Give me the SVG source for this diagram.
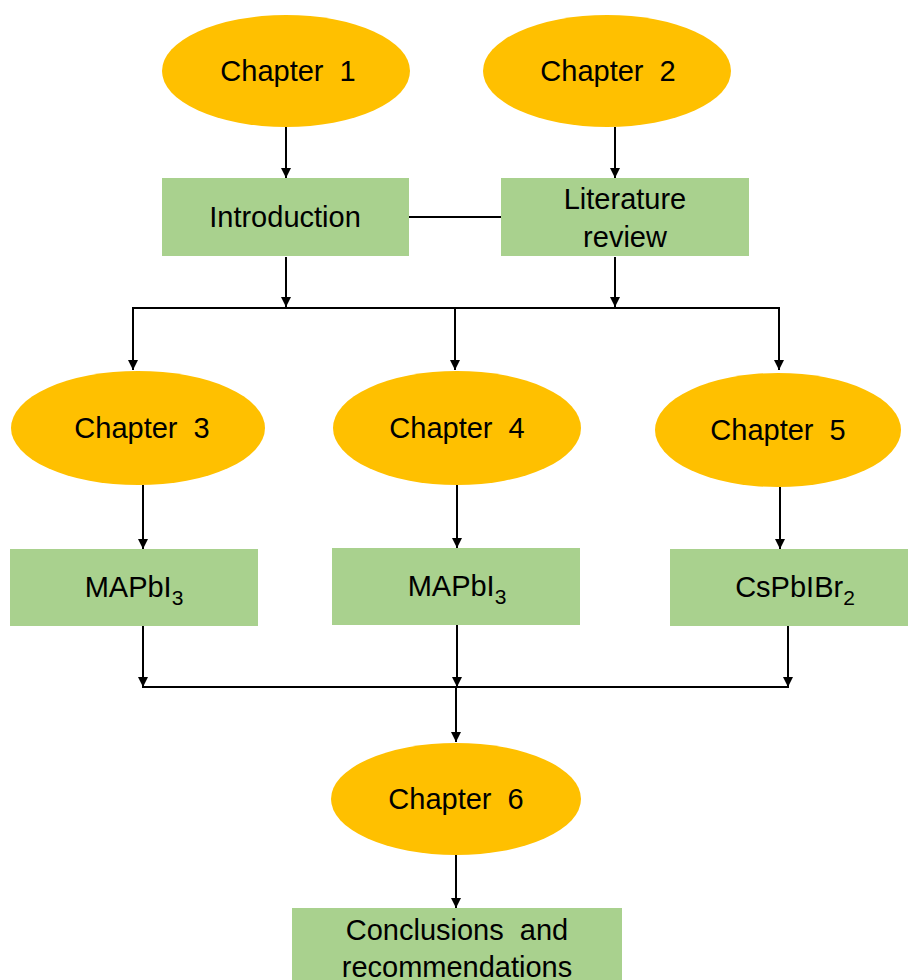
<svg xmlns="http://www.w3.org/2000/svg" width="908" height="980" viewBox="0 0 908 980">
<style>
.ell{fill:#FFC000}
.box{fill:#A9D18E}
.t{font-family:"Liberation Sans",Arial,sans-serif;font-size:29px;fill:#000;text-anchor:middle;word-spacing:8px}
.c{stroke:#000;stroke-width:2;fill:none}
</style>
<defs>
<marker id="ah" markerWidth="10" markerHeight="12" refX="10" refY="5" orient="auto" markerUnits="userSpaceOnUse">
<path d="M0,0 L10,5 L0,10 Z" fill="#000"/>
</marker>
</defs>
<rect width="908" height="980" fill="#fff"/>
<g id="connectors">
<line class="c" x1="286" y1="127" x2="286" y2="178" marker-end="url(#ah)"/>
<line class="c" x1="615" y1="127" x2="615" y2="178" marker-end="url(#ah)"/>
<line class="c" x1="409" y1="217" x2="501" y2="217"/>
<line class="c" x1="286" y1="257" x2="286" y2="307" marker-end="url(#ah)"/>
<line class="c" x1="615" y1="257" x2="615" y2="307" marker-end="url(#ah)"/>
<line class="c" x1="132" y1="308" x2="780" y2="308"/>
<line class="c" x1="133" y1="308" x2="133" y2="370" marker-end="url(#ah)"/>
<line class="c" x1="455" y1="308" x2="455" y2="370" marker-end="url(#ah)"/>
<line class="c" x1="779" y1="308" x2="779" y2="370" marker-end="url(#ah)"/>
<line class="c" x1="143" y1="485" x2="143" y2="549" marker-end="url(#ah)"/>
<line class="c" x1="457" y1="485" x2="457" y2="548" marker-end="url(#ah)"/>
<line class="c" x1="780" y1="487" x2="780" y2="549" marker-end="url(#ah)"/>
<line class="c" x1="143" y1="626" x2="143" y2="687" marker-end="url(#ah)"/>
<line class="c" x1="457" y1="625" x2="457" y2="687" marker-end="url(#ah)"/>
<line class="c" x1="788" y1="626" x2="788" y2="687" marker-end="url(#ah)"/>
<line class="c" x1="142" y1="687" x2="789" y2="687"/>
<line class="c" x1="456" y1="687" x2="456" y2="742" marker-end="url(#ah)"/>
<line class="c" x1="456" y1="855" x2="456" y2="908" marker-end="url(#ah)"/>
</g>
<g id="ch1"><ellipse class="ell" cx="286" cy="71" rx="124" ry="56"/><text class="t" x="288" y="81">Chapter 1</text></g>
<g id="ch2"><ellipse class="ell" cx="607" cy="71" rx="124" ry="56"/><text class="t" x="608" y="81">Chapter 2</text></g>
<g id="intro"><rect class="box" x="162" y="178" width="247" height="78"/><text class="t" x="285" y="227">Introduction</text></g>
<g id="lit"><rect class="box" x="501" y="178" width="248" height="78"/><text class="t" x="625" y="209">Literature</text><text class="t" x="625" y="247">review</text></g>
<g id="ch3"><ellipse class="ell" cx="138" cy="428" rx="127" ry="57"/><text class="t" x="142" y="438">Chapter 3</text></g>
<g id="ch4"><ellipse class="ell" cx="457" cy="428" rx="124" ry="57"/><text class="t" x="457" y="438">Chapter 4</text></g>
<g id="ch5"><ellipse class="ell" cx="778" cy="430" rx="123" ry="57"/><text class="t" x="778" y="440">Chapter 5</text></g>
<g id="m1"><rect class="box" x="10" y="549" width="248" height="77"/><text class="t" x="134" y="597">MAPbI<tspan font-size="21" dy="8">3</tspan></text></g>
<g id="m2"><rect class="box" x="332" y="548" width="248" height="77"/><text class="t" x="457" y="596">MAPbI<tspan font-size="21" dy="8">3</tspan></text></g>
<g id="m3"><rect class="box" x="670" y="549" width="238" height="77"/><text class="t" x="795" y="597">CsPbIBr<tspan font-size="21" dy="8">2</tspan></text></g>
<g id="ch6"><ellipse class="ell" cx="456" cy="799" rx="125" ry="56"/><text class="t" x="456" y="809">Chapter 6</text></g>
<g id="concl"><rect class="box" x="292" y="908" width="330" height="80"/><text class="t" x="457" y="940">Conclusions and</text><text class="t" x="457" y="977">recommendations</text></g>
</svg>
